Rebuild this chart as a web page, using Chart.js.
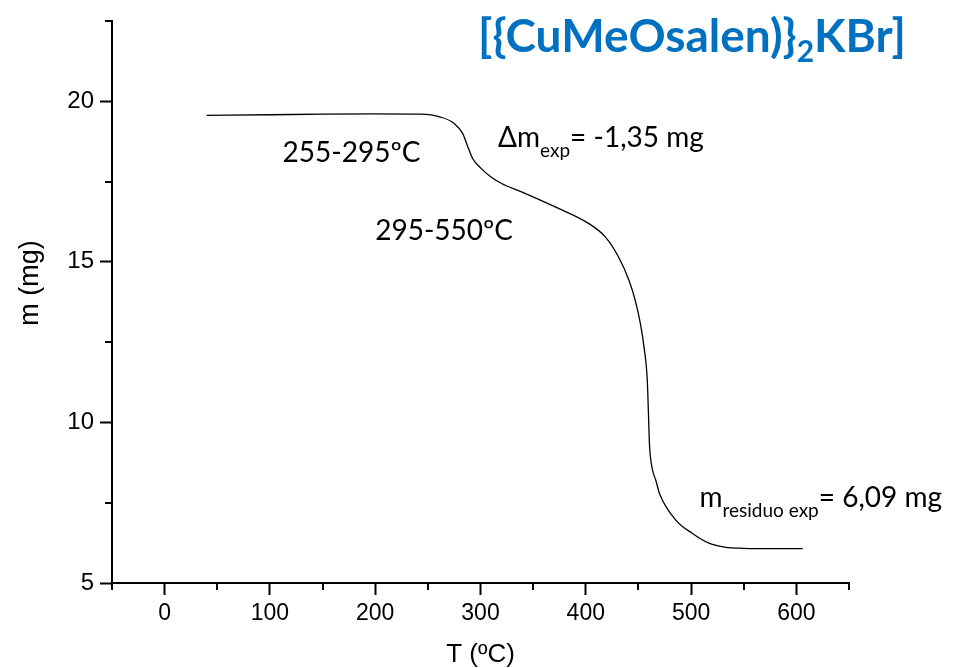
<!DOCTYPE html>
<html>
<head>
<meta charset="utf-8">
<script src="https://cdn.jsdelivr.net/npm/chart.js@4"></script>
<style>
  body { margin: 0; background: #fff; }
  #wrap { width: 954px; height: 668px; }
</style>
</head>
<body>
<div id="wrap"><canvas id="tgaChart" width="954" height="668"></canvas></div>
<script>
// temperature (ºC) and mass (mg)
const temps = [40, 100, 150, 200, 243, 262, 275, 283, 288, 292.5, 300.5, 310, 320, 339, 371, 403, 418.5, 431, 441, 447, 452, 455.5, 458.4, 459.5, 460.5, 461.5, 463.5, 466.5, 470, 485.5, 501, 517, 533, 550, 580, 606];
const masses = [19.56, 19.58, 19.6, 19.61, 19.6, 19.51, 19.31, 19.0, 18.58, 18.22, 17.91, 17.64, 17.44, 17.18, 16.71, 16.19, 15.78, 15.16, 14.43, 13.8, 13.05, 12.3, 11.32, 10.3, 9.3, 8.9, 8.5, 8.2, 7.79, 6.96, 6.55, 6.24, 6.11, 6.08, 6.07, 6.07];

const xMajorTicks = [0, 100, 200, 300, 400, 500, 600];
const xMinorTicks = [-50, 50, 150, 250, 350, 450, 550, 650];
const yMajorTicks = [5, 10, 15, 20];
const yMinorTicks = [7.5, 12.5, 17.5, 22.5];

const axisFont = 'Liberation Sans, Arial, sans-serif';
const noteFont = 'Lato, Carlito, sans-serif';

// draws minor ticks, axis titles and the text notes
const extrasPlugin = {
    id: 'extras',
    afterDraw(chart) {
        const ctx = chart.ctx;
        const xs = chart.scales.x;
        const ys = chart.scales.y;
        const area = chart.chartArea;

        ctx.save();
        ctx.strokeStyle = '#000';
        ctx.lineWidth = 2;
        ctx.beginPath();
        xMinorTicks.forEach(v => {
            const px = Math.round(xs.getPixelForValue(v));
            ctx.moveTo(px, area.bottom);
            ctx.lineTo(px, area.bottom + 7);
        });
        yMinorTicks.forEach(v => {
            const py = Math.round(ys.getPixelForValue(v));
            ctx.moveTo(area.left, py);
            ctx.lineTo(area.left - 7, py);
        });
        ctx.stroke();

        // axis titles
        ctx.fillStyle = '#000';
        ctx.font = '26px ' + axisFont;
        ctx.textAlign = 'center';
        ctx.textBaseline = 'alphabetic';
        ctx.fillText('T (ºC)', (area.left + area.right) / 2, 662);

        ctx.save();
        ctx.translate(38, 283);
        ctx.rotate(-Math.PI / 2);
        ctx.font = '27px ' + axisFont;
        ctx.fillText('m (mg)', 0, 0);
        ctx.restore();

        // notes placed in data coordinates
        ctx.textAlign = 'left';
        function runs(parts, t, m) {
            let x = xs.getPixelForValue(t);
            const y = ys.getPixelForValue(m);
            parts.forEach(p => {
                ctx.font = p.font;
                ctx.fillStyle = p.color || '#000';
                ctx.fillText(p.text, x, y + (p.dy || 0));
                x += ctx.measureText(p.text).width;
            });
        }

        runs([{ text: '255-295ºC', font: '28px ' + noteFont }], 112, 18.1);
        runs([{ text: '295-550ºC', font: '28px ' + noteFont }], 200, 15.68);
        runs([
            { text: '\u0394m', font: '28px ' + noteFont },
            { text: 'exp', font: '19px ' + noteFont, dy: 10 },
            { text: '= -1,35 mg', font: '28px ' + noteFont }
        ], 316.7, 18.57);
        runs([
            { text: 'm', font: '28px ' + noteFont },
            { text: 'residuo exp', font: '19px ' + noteFont, dy: 10 },
            { text: '= 6,09 mg', font: '28px ' + noteFont }
        ], 508, 7.37);

        const blue = '#0070C0';
        runs([
            { text: '[{CuMeOsalen)}', font: 'bold 46px ' + noteFont, color: blue },
            { text: '2', font: 'bold 30px ' + noteFont, color: blue, dy: 10 },
            { text: 'KBr]', font: 'bold 46px ' + noteFont, color: blue }
        ], 297.6, 21.53);

        ctx.restore();
    }
};

const ctx = document.getElementById('tgaChart').getContext('2d');
const tgaChart = new Chart(ctx, {
    type: 'line',
    data: {
        datasets: [{
            label: 'm',
            data: temps.map((t, i) => ({ x: t, y: masses[i] })),
            borderColor: '#000',
            borderWidth: 1.3,
            pointRadius: 0,
            fill: false,
            cubicInterpolationMode: 'monotone'
        }]
    },
    options: {
        responsive: false,
        animation: false,
        devicePixelRatio: 1,
        layout: { padding: { top: 21, right: 105, left: 0, bottom: 0 } },
        plugins: {
            legend: { display: false },
            tooltip: { enabled: false }
        },
        scales: {
            x: {
                type: 'linear',
                min: -50,
                max: 650,
                afterBuildTicks: axis => { axis.ticks = xMajorTicks.map(v => ({ value: v })); },
                afterFit: scale => { scale.height = 85; },
                border: { color: '#000', width: 2 },
                grid: { drawOnChartArea: false, drawTicks: true, tickLength: 12, tickWidth: 2, tickColor: '#000' },
                ticks: { color: '#000', font: { family: axisFont, size: 23 }, padding: 5, maxRotation: 0 }
            },
            y: {
                type: 'linear',
                min: 5,
                max: 22.5,
                afterBuildTicks: axis => { axis.ticks = yMajorTicks.map(v => ({ value: v })); },
                afterFit: scale => { scale.width = 112; },
                border: { color: '#000', width: 2 },
                grid: { drawOnChartArea: false, drawTicks: true, tickLength: 12, tickWidth: 2, tickColor: '#000' },
                ticks: { color: '#000', font: { family: axisFont, size: 24 }, padding: 6 }
            }
        }
    },
    plugins: [extrasPlugin]
});
</script>
</body>
</html>
